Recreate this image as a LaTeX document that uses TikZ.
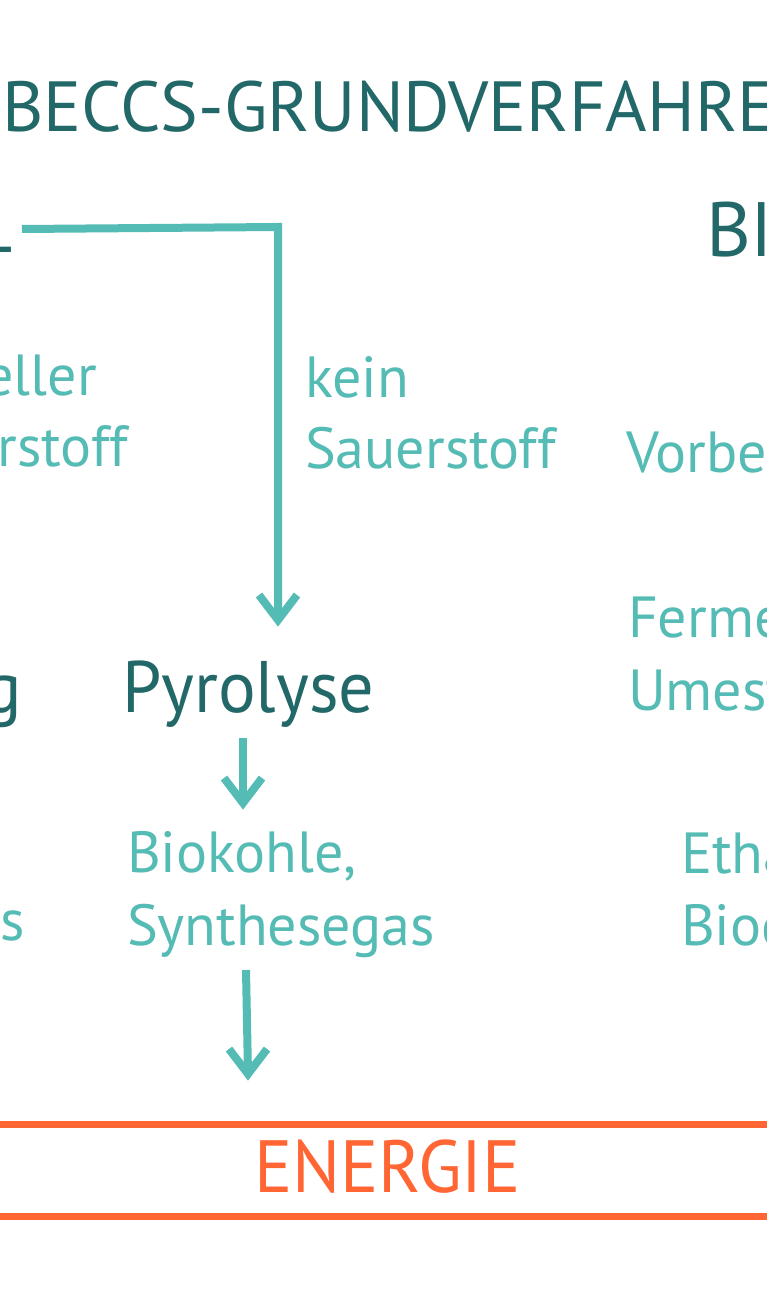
\documentclass[tikz,border=0pt]{standalone}
\usepackage{fontspec}
\setmainfont{PT Sans}
\newfontfamily\condfont[FakeStretch=0.965]{PT Sans}
\usetikzlibrary{calc}
\definecolor{dk}{RGB}{35,104,104}
\definecolor{tl}{RGB}{85,187,181}
\definecolor{og}{RGB}{255,102,51}
\newcommand{\chevron}[2]{% #1 apex coordinate, #2 colour
  \draw[draw=#2, line width=8pt, line join=miter, line cap=butt]
    ($(#1)+(-19,-25)$) -- (#1) -- ($(#1)+(19,-25)$);}
\begin{document}
\begin{tikzpicture}[x=1pt,y=-1pt,
  tw/.style={anchor=base west, inner sep=0pt, outer sep=0pt},
  te/.style={anchor=base east, inner sep=0pt, outer sep=0pt},
  small/.style={text=tl, font=\fontsize{58}{70}\selectfont},
  head/.style={text=dk, font=\fontsize{72}{80}\selectfont},
  ttl/.style={text=dk, font=\fontsize{71}{80}\selectfont},
  conn/.style={draw=tl, line width=8pt, line cap=butt, line join=miter},
  band/.style={draw=og, line width=7pt}]
\useasboundingbox (0,0) rectangle (767,1300);
\fill[white] (0,0) rectangle (767,1300);
\clip (0,0) rectangle (767,1300);

% title
\node[tw, ttl] (title) at (2,132) {BECCS-GRUNDVERFAHREN};

% headings
\node[te, head] (thermo) at (13,252) {L};
\node[tw, head, font=\fontsize{77}{80}\selectfont] (bio) at (706,256) {BIOCHEMISCH};

% left column (cut)
\node[te, small] (l1) at (97,395) {partieller};
\node[te, small] (l2) at (128,466) {Sauerstoff};
\node[te, head] (verg) at (22,712) {Vergasung};
\node[te, small] (syn) at (25,940) {Synthesegas};

% middle column
\node[tw, small] (kein1) at (305,397) {kein};
\node[tw, small] (kein2) at (305,468) {Sauerstoff};
\node[tw, head, font=\condfont\fontsize{73}{80}\selectfont] (pyro) at (122,712) {Pyrolyse};
\node[tw, small] (bk1) at (127,872) {Biokohle,};
\node[tw, small] (bk2) at (127,945) {Synthesegas};

% right column (cut)
\node[tw, small] (vorb) at (626,472) {Vorbehandlung};
\node[tw, small] (ferm1) at (628,637) {Fermentation,};
\node[tw, small] (ferm2) at (628,710) {Umesterung};
\node[tw, small] (eth1) at (681,873) {Ethanol,};
\node[tw, small] (eth2) at (681,945) {Biodiesel};

% connectors
\coordinate (b0) at (22,229);
\coordinate (b1) at (278,227);
\coordinate (t1) at (278,620);
\draw[conn] (b0) -- (b1) -- (t1);
\chevron{t1}{tl}

\coordinate (s2) at (243,738);
\coordinate (t2) at (243,803);
\draw[conn] (s2) -- (t2);
\chevron{t2}{tl}

\coordinate (s3) at (246,970);
\coordinate (t3) at (248,1074);
\draw[conn] (s3) -- (t3);
\chevron{t3}{tl}

% energy band
\coordinate (eL1) at (0,1124);
\coordinate (eR1) at (767,1124);
\coordinate (eL2) at (0,1216.5);
\coordinate (eR2) at (767,1216.5);
\draw[band] (eL1) -- (eR1);
\draw[band] (eL2) -- (eR2);
\node[anchor=base, inner sep=0pt, text=og, font=\condfont\fontsize{74}{80}\selectfont] (energie) at (387.5,1192) {ENERGIE};
\end{tikzpicture}
\end{document}
